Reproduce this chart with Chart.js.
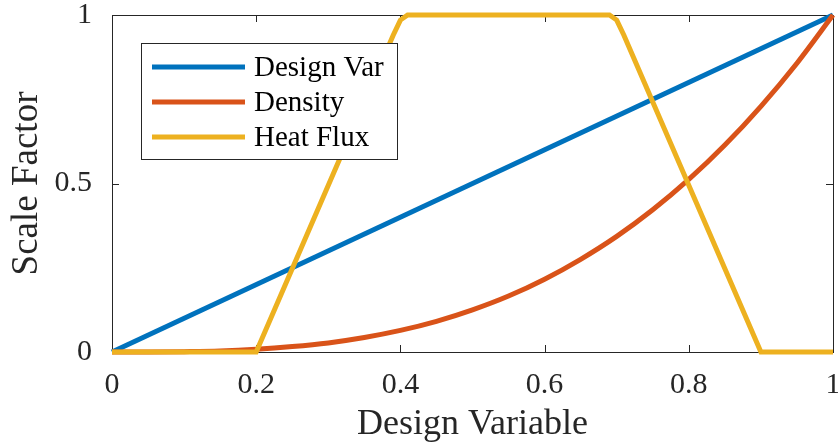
<!DOCTYPE html>
<html>
<head>
<meta charset="utf-8">
<script src="https://cdn.jsdelivr.net/npm/chart.js@4.4.0/dist/chart.umd.min.js"></script>
<style>
  html, body { margin: 0; padding: 0; background: #fff; }
  #wrap { width: 838px; height: 446px; }
</style>
</head>
<body>
<div id="wrap"><canvas id="myChart"></canvas></div>
<script>
var xDesign = [0, 1];
var yDesign = [0, 1];

var xDensity = [0, 0.05, 0.1, 0.15, 0.2, 0.25, 0.3, 0.35, 0.4, 0.45, 0.5, 0.55, 0.6, 0.65, 0.7, 0.75, 0.8, 0.85, 0.9, 0.95, 1];
var yDensity = [0, 0, 0.001, 0.003, 0.008, 0.016, 0.027, 0.043, 0.064, 0.091, 0.125, 0.166, 0.216, 0.275, 0.343, 0.422, 0.512, 0.614, 0.729, 0.857, 1];

var xHeat = [0, 0.2, 0.39, 0.4, 0.41, 0.69, 0.7, 0.71, 0.9, 1];
var yHeat = [0, 0, 0.94, 0.985, 1, 1, 0.985, 0.94, 0, 0];

var seriesNames = ["Design Var", "Density", "Heat Flux"];
var seriesColors = ["#0072BD", "#D95319", "#EDB120"];

var xTicks = [0, 0.2, 0.4, 0.6, 0.8, 1];
var yTicks = [0, 0.5, 1];

var axisColor = "#262626";
var serif = "Liberation Serif";

function pairs(xs, ys) {
  return xs.map(function (x, i) { return { x: x, y: ys[i] }; });
}

// box around the plot with inward ticks on every side
var axesBox = {
  id: "axesBox",
  beforeDatasetsDraw: function (chart) {
    var ctx = chart.ctx, a = chart.chartArea;
    var sx = chart.scales.x, sy = chart.scales.y;
    var len = 7;
    ctx.save();
    ctx.strokeStyle = axisColor;
    ctx.lineWidth = 1;
    ctx.strokeRect(a.left + 0.5, a.top + 0.5, a.right - a.left, a.bottom - a.top);
    ctx.beginPath();
    xTicks.forEach(function (v) {
      var px = Math.round(sx.getPixelForValue(v)) + 0.5;
      ctx.moveTo(px, a.bottom); ctx.lineTo(px, a.bottom - len);
      ctx.moveTo(px, a.top); ctx.lineTo(px, a.top + len);
    });
    yTicks.forEach(function (v) {
      var py = Math.round(sy.getPixelForValue(v)) + 0.5;
      ctx.moveTo(a.left, py); ctx.lineTo(a.left + len, py);
      ctx.moveTo(a.right, py); ctx.lineTo(a.right - len, py);
    });
    ctx.stroke();
    ctx.restore();
  }
};

// legend box sitting inside the plot area
var innerLegend = {
  id: "innerLegend",
  afterDraw: function (chart) {
    var ctx = chart.ctx, a = chart.chartArea;
    var bx = a.left + 29, by = a.top + 28, bw = 256, bh = 116;
    ctx.save();
    ctx.fillStyle = "#fff";
    ctx.fillRect(bx, by, bw, bh);
    ctx.strokeStyle = axisColor;
    ctx.lineWidth = 1;
    ctx.strokeRect(bx + 0.5, by + 0.5, bw, bh);
    ctx.font = "29px " + serif;
    ctx.textBaseline = "middle";
    ctx.fillStyle = "#000";
    seriesNames.forEach(function (name, i) {
      var y = by + 24 + i * 35;
      ctx.strokeStyle = seriesColors[i];
      ctx.lineWidth = 5;
      ctx.beginPath();
      ctx.moveTo(bx + 11, y);
      ctx.lineTo(bx + 104, y);
      ctx.stroke();
      ctx.fillText(name, bx + 113, y + 1);
    });
    ctx.restore();
  }
};

function plainTick(v) { return String(v); }

new Chart("myChart", {
  type: "line",
  data: {
    datasets: [{
      label: seriesNames[0],
      data: pairs(xDesign, yDesign),
      borderColor: seriesColors[0],
      order: 3
    }, {
      label: seriesNames[1],
      data: pairs(xDensity, yDensity),
      borderColor: seriesColors[1],
      cubicInterpolationMode: "monotone",
      order: 2
    }, {
      label: seriesNames[2],
      data: pairs(xHeat, yHeat),
      borderColor: seriesColors[2],
      order: 1
    }]
  },
  options: {
    responsive: true,
    maintainAspectRatio: false,
    animation: false,
    pointRadius: 0,
    clip: false,
    layout: { padding: 0 },
    elements: { line: { borderWidth: 5, tension: 0, borderCapStyle: "butt" } },
    plugins: {
      legend: { display: false },
      tooltip: { enabled: false }
    },
    scales: {
      x: {
        type: "linear",
        min: 0,
        max: 1,
        afterBuildTicks: function (s) { s.ticks = xTicks.map(function (v) { return { value: v }; }); },
        ticks: { color: axisColor, font: { family: serif, size: 30 }, padding: 7, maxRotation: 0, callback: plainTick },
        grid: { display: false },
        border: { display: false },
        title: { display: true, text: "Design Variable", color: axisColor, font: { family: serif, size: 36 }, padding: { top: 0, bottom: 0 } },
        afterFit: function (s) { s.height = 94; s.paddingLeft = 0; s.paddingRight = 5; }
      },
      y: {
        type: "linear",
        min: 0,
        max: 1,
        afterBuildTicks: function (s) { s.ticks = yTicks.map(function (v) { return { value: v }; }); },
        ticks: { color: axisColor, font: { family: serif, size: 30 }, padding: 12, callback: plainTick },
        grid: { display: false },
        border: { display: false },
        title: { display: true, text: "Scale Factor", color: axisColor, font: { family: serif, size: 37 }, padding: { top: 5, bottom: 0 } },
        afterFit: function (s) { s.width = 112; s.paddingTop = 15; s.paddingBottom = 0; }
      }
    }
  },
  plugins: [axesBox, innerLegend]
});
</script>
</body>
</html>
